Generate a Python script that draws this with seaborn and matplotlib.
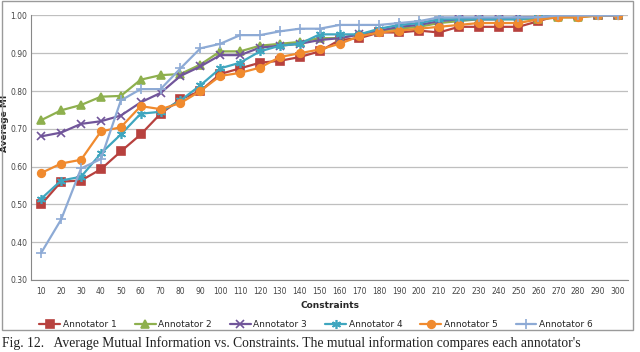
import matplotlib
matplotlib.use("Agg")
import matplotlib.pyplot as plt
import seaborn as sns
import numpy as np
from matplotlib.patches import Rectangle

# Data
constraints = list(range(10, 310, 10))

annotator_1 = [0.500, 0.560, 0.563, 0.593, 0.640, 0.685, 0.740, 0.778, 0.800, 0.845,
               0.860, 0.875, 0.880, 0.890, 0.905, 0.935, 0.940, 0.955, 0.955, 0.960,
               0.955, 0.970, 0.970, 0.970, 0.970, 0.985, 1.000, 1.000, 1.000, 1.000]
annotator_2 = [0.723, 0.749, 0.763, 0.785, 0.787, 0.830, 0.842, 0.845, 0.870, 0.905,
               0.905, 0.920, 0.925, 0.930, 0.940, 0.940, 0.950, 0.960, 0.965, 0.970,
               0.980, 0.985, 0.990, 0.990, 0.990, 0.990, 0.995, 0.995, 1.000, 1.000]
annotator_3 = [0.680, 0.690, 0.713, 0.720, 0.735, 0.770, 0.795, 0.840, 0.865, 0.895,
               0.895, 0.915, 0.920, 0.925, 0.935, 0.940, 0.950, 0.960, 0.970, 0.975,
               0.985, 0.990, 0.990, 0.990, 0.995, 0.995, 1.000, 1.000, 1.000, 1.000]
annotator_4 = [0.515, 0.563, 0.573, 0.635, 0.685, 0.740, 0.745, 0.775, 0.815, 0.860,
               0.875, 0.905, 0.920, 0.925, 0.950, 0.950, 0.950, 0.965, 0.975, 0.980,
               0.990, 0.990, 0.990, 0.990, 0.990, 0.995, 1.000, 1.000, 1.000, 1.000]
annotator_5 = [0.583, 0.608, 0.618, 0.693, 0.704, 0.760, 0.752, 0.768, 0.800, 0.840,
               0.848, 0.862, 0.890, 0.900, 0.910, 0.925, 0.945, 0.955, 0.960, 0.965,
               0.970, 0.975, 0.980, 0.980, 0.980, 0.990, 0.995, 0.995, 1.000, 1.000]
annotator_6 = [0.372, 0.460, 0.595, 0.620, 0.775, 0.805, 0.805, 0.860, 0.913, 0.925,
               0.948, 0.948, 0.958, 0.965, 0.965, 0.975, 0.975, 0.975, 0.980, 0.985,
               0.995, 0.995, 0.995, 0.995, 0.995, 0.995, 1.000, 1.000, 1.000, 1.000]

series = {
    "Annotator 1": annotator_1,
    "Annotator 2": annotator_2,
    "Annotator 3": annotator_3,
    "Annotator 4": annotator_4,
    "Annotator 5": annotator_5,
    "Annotator 6": annotator_6,
}
colors = ["#B7413E", "#8EB04E", "#71559A", "#3FA6BF", "#F08A2E", "#8DAAD5"]
markers = ["s", "^", "x", (6, 2, 0), "o", "+"]
msizes = [5.5, 5.5, 5.5, 6.5, 5.5, 6.5]

sns.set_style("white")
plt.rcParams['font.family'] = ['DejaVu Sans']

fig = plt.figure(figsize=(6.4, 3.52), dpi=100)
ax = fig.add_axes([0.049, 0.205, 0.932, 0.751])

for (name, vals), c, m, ms in zip(series.items(), colors, markers, msizes):
    sns.lineplot(x=constraints, y=vals, ax=ax, color=c, marker=m, markersize=ms,
                 markeredgecolor=c, markeredgewidth=1.2, linewidth=1.6, label=name)

ax.set_xlim(5, 305)
ax.set_ylim(0.30, 1.00)
yt = np.arange(0.30, 1.001, 0.10)
ax.set_yticks(yt)
ax.set_yticklabels([f"{v:.2f}" for v in yt])
ax.set_xticks(constraints)
ax.set_xticklabels([str(c) for c in constraints])
ax.set_xticks(np.arange(5, 306, 10), minor=True)
ax.tick_params(axis="x", which="major", length=0, labelsize=5.5, labelcolor="#444444", pad=5)
ax.tick_params(axis="x", which="minor", length=3, color="#888888", direction="out")
ax.tick_params(axis="y", length=0, labelsize=5.5, labelcolor="#444444", pad=3)
ax.grid(axis="y", color="#BFBFBF", linewidth=0.9)
ax.set_axisbelow(True)
for s in ["top", "right"]:
    ax.spines[s].set_visible(False)
for s in ["left", "bottom"]:
    ax.spines[s].set_color("#888888")
    ax.spines[s].set_linewidth(0.8)

ax.set_xlabel("Constraints", fontsize=6.5, fontweight="bold", labelpad=4)
ax.set_ylabel("Average MI", fontsize=6.5, fontweight="bold")
ax.yaxis.set_label_coords(-0.038, 0.59)

handles, labels = ax.get_legend_handles_labels()
ax.legend_.remove()
fig.legend(handles, labels, loc="center", bbox_to_anchor=(0.494, 0.079), ncol=6,
           frameon=False, fontsize=6.5, handlelength=2.3, columnspacing=2.0,
           handletextpad=0.3)

# chart border
fig.patches.append(Rectangle((0.003, 0.062), 0.986, 0.934, transform=fig.transFigure,
                             fill=False, edgecolor="#9A9A9A", linewidth=1.0))

fig.text(0.003, 0.044, "Fig. 12.   Average Mutual Information vs. Constraints. The mutual information compares each annotator's",
         fontsize=9.8, family="Liberation Serif", va="top", ha="left", color="#222222")

fig.savefig("out.png", dpi=100)
